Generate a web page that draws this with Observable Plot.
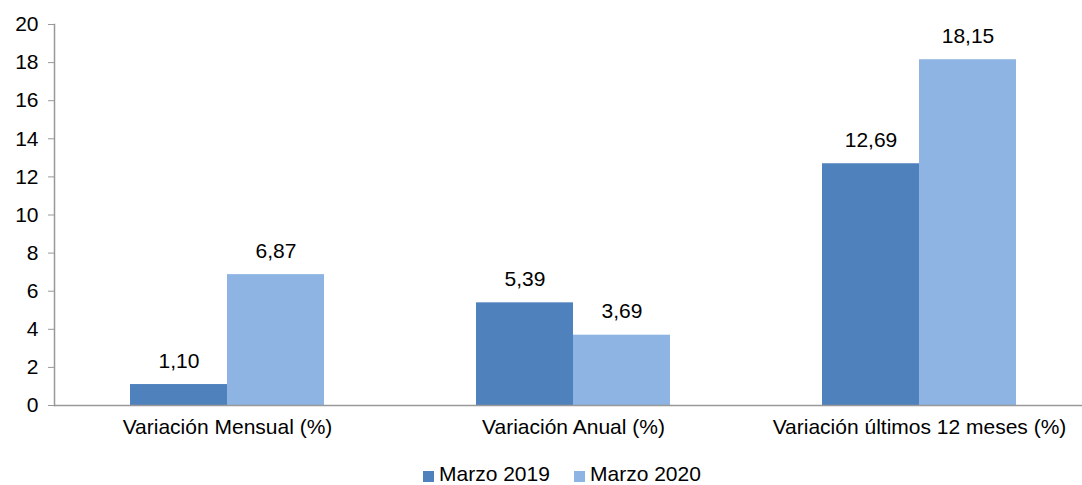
<!DOCTYPE html>
<html><head><meta charset="utf-8">
<script src="https://cdn.jsdelivr.net/npm/d3@7"></script>
<script src="https://cdn.jsdelivr.net/npm/@observablehq/plot@0.6"></script>
<style>
html,body{margin:0;background:#fff;font-family:"Liberation Sans",Arial,sans-serif;overflow:hidden;width:1082px;height:485px;}
#wrap{position:relative;width:1082px;height:485px;overflow:hidden;}
#chart{position:absolute;left:0;top:0;width:1094px;}
#chart svg{max-width:none !important;}
.lg-sw{position:absolute;width:11px;height:11px;}
.lg-tx{position:absolute;font-size:21px;line-height:21px;color:#000;white-space:nowrap;}
</style></head><body>
<div id="wrap"><div id="chart"></div><div id="legend"></div></div>
<script>
const categories = ["Variación Mensual (%)", "Variación Anual (%)", "Variación últimos 12 meses (%)"];
const series = ["Marzo 2019", "Marzo 2020"];
const values2019 = [1.10, 5.39, 12.69];
const values2020 = [6.87, 3.69, 18.15];
const yTicks = [0, 2, 4, 6, 8, 10, 12, 14, 16, 18, 20];
const colors = ["#4F81BD", "#8EB4E3"];

const data = [];
categories.forEach((c, i) => {
  data.push({category: c, series: series[0], value: values2019[i]});
  data.push({category: c, series: series[1], value: values2020[i]});
});
const fmt = v => v.toFixed(2).replace(".", ",");

const chart = Plot.plot({
  width: 1094,
  height: 452,
  marginLeft: 53,
  marginRight: 1,
  marginTop: 24,
  marginBottom: 47,
  style: {fontFamily: "Liberation Sans, Arial, sans-serif", fontSize: "21px", color: "#000", background: "#fff", overflow: "visible", maxWidth: "none"},
  fx: {domain: categories, padding: 0, label: null, axis: null},
  x: {domain: series, axis: null, paddingInner: 0, paddingOuter: 0.77},
  y: {domain: [0, 20], ticks: yTicks, label: null},
  color: {domain: series, range: colors},
  marks: [
    Plot.barY(data, {fx: "category", x: "series", y: "value", fill: "series"}),
    Plot.text(data, {fx: "category", x: "series", y: "value", text: d => fmt(d.value), dy: -17, lineAnchor: "bottom", fontSize: 21, fill: "#000"}),
    Plot.ruleY([0], {stroke: "#999", strokeWidth: 1.5}),
    Plot.axisFx({anchor: "bottom", domain: categories, tickSize: 0, tickPadding: 14, label: null, fontSize: 21}),
    Plot.axisY({ticks: yTicks, tickSize: 6, tickPadding: 10, label: null, fontSize: 21, stroke: "#999"}),
    Plot.frame({anchor: "left", stroke: "#999", strokeWidth: 1.5, facet: "super"})
  ]
});
document.getElementById("chart").appendChild(chart);

const legend = document.getElementById("legend");
const lgX = [423, 574];
series.forEach((s, i) => {
  const sw = document.createElement("div");
  sw.className = "lg-sw";
  sw.style.left = lgX[i] + "px";
  sw.style.top = "471px";
  sw.style.background = colors[i];
  legend.appendChild(sw);
  const tx = document.createElement("div");
  tx.className = "lg-tx";
  tx.style.left = (lgX[i] + 16) + "px";
  tx.style.top = "463px";
  tx.textContent = s;
  legend.appendChild(tx);
});
</script>
</body></html>
